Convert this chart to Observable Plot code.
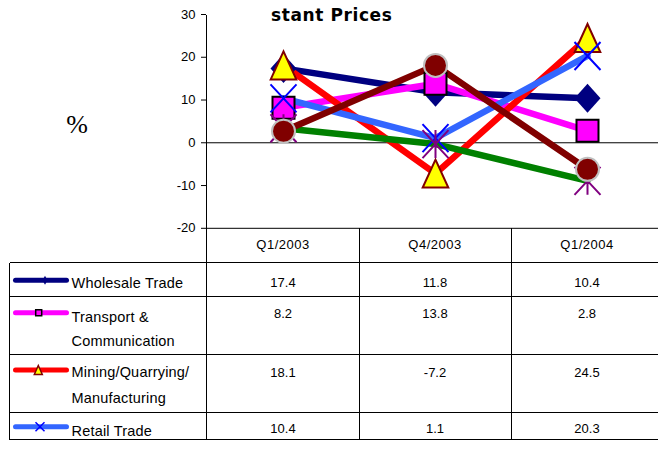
<!DOCTYPE html>
<html><head><meta charset="utf-8">
<script src="https://cdn.jsdelivr.net/npm/d3@7"></script>
<script src="https://cdn.jsdelivr.net/npm/@observablehq/plot@0.6"></script>
<style>
html,body{margin:0;padding:0;background:#fff;}
#wrap{position:relative;width:658px;height:459px;overflow:hidden;}
</style></head><body><div id="wrap"></div>
<script>
// ---------- data ----------
const categories = ["Q1/2003", "Q4/2003", "Q1/2004"];
const yTicks = [-20, -10, 0, 10, 20, 30];
const titleText = "stant Prices";
const yLabel = "%";
const wholesale = [17.4, 11.8, 10.4];
const transport = [8.2, 13.8, 2.8];
const mining = [18.1, -7.2, 24.5];
const retail = [10.4, 1.1, 20.3];
const hiddenGreen = [3.4, -0.3, -8.9];   // series whose table row is cut off
const hiddenMaroon = [2.7, 18.1, -6.2];  // series whose table row is cut off
const tableLabels = [["Wholesale Trade"], ["Transport &", "Communication"], ["Mining/Quarrying/", "Manufacturing"], ["Retail Trade"]];

// ---------- symbols ----------
const diamond = (w, h) => ({draw(c) { c.moveTo(0, -h); c.lineTo(w, 0); c.lineTo(0, h); c.lineTo(-w, 0); c.closePath(); }});
const square = (s) => ({draw(c) { c.moveTo(-s, -s); c.lineTo(s, -s); c.lineTo(s, s); c.lineTo(-s, s); c.closePath(); }});
const triangle = (w, h) => ({draw(c) { c.moveTo(0, -h); c.lineTo(w, h); c.lineTo(-w, h); c.closePath(); }});
const circle = (r) => ({draw(c) { c.moveTo(r, 0); c.arc(0, 0, r, 0, 2 * Math.PI); }});
const cross = (w, h) => ({draw(c) { c.moveTo(-w, -h); c.lineTo(w, h); c.moveTo(w, -h); c.lineTo(-w, h); }});
const star = (w, h) => ({draw(c) { c.moveTo(-w, -h); c.lineTo(w, h); c.moveTo(w, -h); c.lineTo(-w, h); c.moveTo(0, -h); c.lineTo(0, h); }});

const series = [
  {values: wholesale, line: "#000080", symbol: diamond(13, 14.5), fill: "#000080", stroke: "none", sw: 0,
   legendSymbol: diamond(2.5, 4.5), lx: 45},
  {values: transport, line: "#FF00FF", symbol: square(11), fill: "#FF00FF", stroke: "#000", sw: 2,
   legendSymbol: square(3), lx: 38.7},
  {values: mining, line: "#FF0000", symbol: triangle(12.8, 14), fill: "#FFFF00", stroke: "#800000", sw: 2,
   legendSymbol: triangle(4, 4.5), lx: 38.3},
  {values: retail, line: "#3366FF", symbol: cross(13, 14), fill: "none", stroke: "#0000FF", sw: 2,
   legendSymbol: cross(4.5, 4.5), lx: 40},
  {values: hiddenGreen, line: "#008000", symbol: star(13, 14), fill: "none", stroke: "#800080", sw: 2},
  {values: hiddenMaroon, line: "#800000", symbol: circle(11.5), fill: "#800000", stroke: "#C0C0C0", sw: 2}
];
const toRows = (vals) => categories.map((c, i) => ({cat: c, v: vals[i]}));

const lineMarks = series.map(s => Plot.line(toRows(s.values), {x: "cat", y: "v", stroke: s.line, strokeWidth: 6.5}));
const dotMarks = series.map(s => Plot.dot(toRows(s.values), {x: "cat", y: "v", symbol: s.symbol, r: 5, fill: s.fill, stroke: s.stroke, strokeWidth: s.sw}));

const chart = Plot.plot({
  width: 658, height: 459,
  marginTop: 14, marginLeft: 206, marginRight: 0, marginBottom: 231,
  style: {background: "transparent", fontFamily: "'Liberation Sans', Arial, sans-serif", fontSize: "13px", color: "#000"},
  x: {type: "point", domain: categories, range: [206, 663], padding: 0.5, axis: null},
  y: {domain: [-20, 30], range: [227.8, 14], axis: null},
  marks: [
    Plot.ruleY([-20, 0], {stroke: "#000", strokeWidth: 1}),
    Plot.axisY(yTicks, {tickSize: 5, tickPadding: 6, tickFormat: d => String(d), fontSize: 13, label: null}),
    ...lineMarks,
    ...dotMarks
  ]
});
document.getElementById("wrap").appendChild(chart);

// ---------- title, axis label, data table ----------
const svg = d3.select(chart);
const xs = chart.scale("x"), ys = chart.scale("y");
const centers = categories.map(c => xs.apply(c));
const step = centers[1] - centers[0];
const left = 9.5, axisX = 206.5, right = 670;
const headerTop = ys.apply(-20);
const rowLines = [262.3, 296.7, 354.3, 412, 439.3];
const crisp = v => Math.round(v - 0.5) + 0.5;
const g = svg.append("g").attr("shape-rendering", "crispEdges").attr("stroke", "#000").attr("stroke-width", 1);
// axis line through table
g.append("line").attr("x1", axisX).attr("x2", axisX).attr("y1", ys.apply(30) + 0.5).attr("y2", crisp(rowLines[4]));
// column separators
centers.forEach((c, i) => {
  if (i === 0) return;
  const x = crisp(c - step / 2);
  g.append("line").attr("x1", x).attr("x2", x).attr("y1", crisp(headerTop)).attr("y2", crisp(rowLines[4]));
});
// left border
g.append("line").attr("x1", left).attr("x2", left).attr("y1", crisp(rowLines[0])).attr("y2", crisp(rowLines[4]));
rowLines.forEach(y => g.append("line").attr("x1", left).attr("x2", right).attr("y1", crisp(y)).attr("y2", crisp(y)));

const font = "'Liberation Sans', Arial, sans-serif";
// header
categories.forEach((c, i) => svg.append("text").attr("x", centers[i]).attr("y", 248.5).attr("text-anchor", "middle")
  .attr("font-family", font).attr("font-size", 13).attr("letter-spacing", 0.5).text(c));
// values
const valueBaselines = [286.5, 318, 376.5, 433];
const labelBaselines = [[288], [321.5, 345.7], [376.7, 403.3], [435.5]];
const swatchY = [280.3, 312.7, 370, 426.7];
[wholesale, transport, mining, retail].forEach((vals, r) => {
  vals.forEach((v, i) => svg.append("text").attr("x", centers[i]).attr("y", valueBaselines[r]).attr("text-anchor", "middle")
    .attr("font-family", font).attr("font-size", 13).text(v.toFixed(1)));
  tableLabels[r].forEach((t, k) => svg.append("text").attr("x", 71.5).attr("y", labelBaselines[r][k]).attr("text-anchor", "start")
    .attr("font-family", font).attr("font-size", 14.5).attr("letter-spacing", 0.2).text(t));
  const s = series[r];
  svg.append("line").attr("x1", 15.5).attr("x2", 66.5).attr("y1", swatchY[r]).attr("y2", swatchY[r])
    .attr("stroke", s.line).attr("stroke-width", 5).attr("stroke-linecap", "round");
  svg.append("path").attr("d", d3.symbol(s.legendSymbol)()).attr("transform", `translate(${s.lx},${swatchY[r]})`)
    .attr("fill", s.fill).attr("stroke", s.stroke).attr("stroke-width", s.sw ? 1.5 : 0);
});
// title and % label
svg.append("text").attr("x", 271).attr("y", 20.7).attr("text-anchor", "start").attr("font-family", "'DejaVu Sans', Verdana, sans-serif")
  .attr("font-weight", "bold").attr("font-size", 17).attr("letter-spacing", 0.6).text(titleText);
svg.append("text").attr("x", 77).attr("y", 133).attr("text-anchor", "middle").attr("font-family", "'Liberation Serif', 'Times New Roman', serif")
  .attr("font-size", 26).text(yLabel);
</script>
</body></html>
